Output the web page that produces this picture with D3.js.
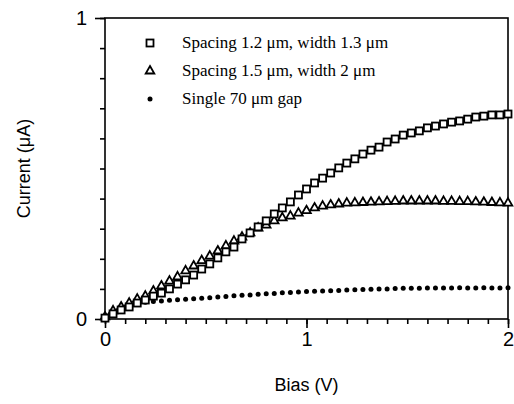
<!DOCTYPE html>
<html>
<head>
<meta charset="utf-8">
<script src="https://cdn.jsdelivr.net/npm/d3@7"></script>
<style>
  body { margin: 0; background: #fff; }
  svg { display: block; }
</style>
</head>
<body>
<svg id="chart" width="514" height="404"></svg>
<script>
// bias points (V), sampled every 0.04 V
const bias = [
  0.00, 0.04, 0.08, 0.12, 0.16, 0.20, 0.24, 0.28, 0.32, 0.36,
  0.40, 0.44, 0.48, 0.52, 0.56, 0.60, 0.64, 0.68, 0.72, 0.76,
  0.80, 0.84, 0.88, 0.92, 0.96, 1.00, 1.04, 1.08, 1.12, 1.16,
  1.20, 1.24, 1.28, 1.32, 1.36, 1.40, 1.44, 1.48, 1.52, 1.56,
  1.60, 1.64, 1.68, 1.72, 1.76, 1.80, 1.84, 1.88, 1.92, 1.96, 2.00,
];

// current (uA), spacing 1.2 um, width 1.3 um
const squares = [
  0.003, 0.017, 0.030, 0.040, 0.053, 0.063, 0.076, 0.086, 0.100, 0.116,
  0.130, 0.146, 0.166, 0.183, 0.203, 0.223, 0.239, 0.266, 0.286, 0.306,
  0.326, 0.349, 0.369, 0.389, 0.412, 0.432, 0.452, 0.468, 0.485, 0.502,
  0.518, 0.532, 0.548, 0.561, 0.571, 0.588, 0.598, 0.611, 0.618, 0.625,
  0.635, 0.641, 0.648, 0.654, 0.658, 0.664, 0.671, 0.674, 0.678, 0.678, 0.681,
];

// spacing 1.5 um, width 2 um
const triangles = [
  0.007, 0.027, 0.040, 0.053, 0.066, 0.076, 0.093, 0.110, 0.126, 0.140,
  0.160, 0.176, 0.194, 0.209, 0.226, 0.243, 0.259, 0.272, 0.286, 0.302,
  0.312, 0.326, 0.336, 0.342, 0.352, 0.360, 0.369, 0.375, 0.379, 0.382,
  0.385, 0.386, 0.387, 0.388, 0.389, 0.390, 0.391, 0.392, 0.392, 0.392,
  0.392, 0.392, 0.391, 0.391, 0.390, 0.390, 0.389, 0.388, 0.387, 0.386, 0.385,
];

// single 70 um gap
const dots = [
  0.000, 0.030, 0.040, 0.047, 0.053, 0.056, 0.058, 0.060, 0.062, 0.064,
  0.066, 0.067, 0.069, 0.071, 0.073, 0.075, 0.077, 0.079, 0.080, 0.082,
  0.084, 0.085, 0.087, 0.088, 0.090, 0.091, 0.092, 0.093, 0.094, 0.095,
  0.096, 0.097, 0.098, 0.099, 0.100, 0.100, 0.101, 0.102, 0.102, 0.102,
  0.103, 0.103, 0.103, 0.103, 0.104, 0.103, 0.103, 0.104, 0.103, 0.103, 0.104,
];

const legendLabels = [
  "Spacing 1.2 \u03bcm, width 1.3 \u03bcm",
  "Spacing 1.5 \u03bcm, width 2 \u03bcm",
  "Single 70 \u03bcm gap",
];

const xMajor = [0, 1, 2];
const xMinor = d3.range(0, 21).map((i) => i / 10);
const yMajor = [0, 1];
const yMinor = d3.range(0, 11).map((i) => i / 10);

const settings = {
  left: 105,
  right: 508,
  top: 18,
  bottom: 319,
  sans: "'Liberation Sans', Arial, sans-serif",
  serif: "'Liberation Serif', 'Times New Roman', serif",
};

const svg = d3.select("#chart");

const x = d3.scaleLinear().domain([0, 2]).range([settings.left, settings.right]);
const y = d3.scaleLinear().domain([0, 1]).range([settings.bottom, settings.top]);

// frame
svg
  .append("rect")
  .attr("x", settings.left)
  .attr("y", settings.top)
  .attr("width", settings.right - settings.left)
  .attr("height", settings.bottom - settings.top)
  .attr("fill", "none")
  .attr("stroke", "#000")
  .attr("stroke-width", 1.6);

function styleAxis(g, size) {
  g.selectAll(".domain").remove();
  g.selectAll(".tick line").attr("stroke", "#000").attr("stroke-width", 1.6);
  g.selectAll(".tick text")
    .attr("font-family", settings.sans)
    .attr("font-size", size)
    .attr("fill", "#000");
}

svg
  .append("g")
  .attr("transform", `translate(0,${settings.bottom})`)
  .call(d3.axisBottom(x).tickValues(xMinor).tickSize(5).tickFormat(""))
  .call((g) => styleAxis(g, 0));

svg
  .append("g")
  .attr("transform", `translate(0,${settings.bottom})`)
  .call(d3.axisBottom(x).tickValues(xMajor).tickSize(9).tickPadding(4).tickFormat(d3.format("d")))
  .call((g) => styleAxis(g, 20));

svg
  .append("g")
  .attr("transform", `translate(${settings.left},0)`)
  .call(d3.axisLeft(y).tickValues(yMinor).tickSize(5).tickFormat(""))
  .call((g) => styleAxis(g, 0));

svg
  .append("g")
  .attr("transform", `translate(${settings.left},0)`)
  .call(d3.axisLeft(y).tickValues(yMajor).tickSize(10).tickPadding(8).tickFormat(d3.format("d")))
  .call((g) => styleAxis(g, 20));

// axis titles
svg
  .append("text")
  .attr("x", (settings.left + settings.right) / 2)
  .attr("y", 391)
  .attr("text-anchor", "middle")
  .attr("font-family", settings.sans)
  .attr("font-size", 18)
  .text("Bias (V)");

svg
  .append("text")
  .attr("transform", `translate(30, ${(settings.top + settings.bottom) / 2}) rotate(-90)`)
  .attr("text-anchor", "middle")
  .attr("font-family", settings.sans)
  .attr("font-size", 18)
  .text("Current (\u03bcA)");

// marker drawers
const sq = 7;
function drawSquare(g, cx, cy) {
  g.append("rect")
    .attr("x", cx - sq / 2)
    .attr("y", cy - sq / 2)
    .attr("width", sq)
    .attr("height", sq)
    .attr("fill", "#fff")
    .attr("stroke", "#000")
    .attr("stroke-width", 1.8);
}
const tri = d3.symbol().type(d3.symbolTriangle).size(32);
function drawTriangle(g, cx, cy) {
  g.append("path")
    .attr("d", tri())
    .attr("transform", `translate(${cx},${cy})`)
    .attr("fill", "#fff")
    .attr("stroke", "#000")
    .attr("stroke-width", 1.8);
}
function drawDot(g, cx, cy) {
  g.append("circle").attr("cx", cx).attr("cy", cy).attr("r", 2.5).attr("fill", "#000");
}

const points = svg.append("g").attr("class", "points");
const dotG = points.append("g");
const triG = points.append("g");
const sqG = points.append("g");
bias.forEach((b, i) => {
  drawSquare(sqG, x(b), y(squares[i]));
  drawTriangle(triG, x(b), y(triangles[i]));
  drawDot(dotG, x(b), y(dots[i]));
});

// legend
const legend = svg.append("g").attr("class", "legend");
const drawers = [drawSquare, drawTriangle, drawDot];
legendLabels.forEach((label, i) => {
  const ly = 43 + i * 28;
  drawers[i](legend, 150, ly);
  legend
    .append("text")
    .attr("x", 182)
    .attr("y", ly + 5)
    .attr("font-family", settings.serif)
    .attr("font-size", 17)
    .text(label);
});
</script>
</body>
</html>
